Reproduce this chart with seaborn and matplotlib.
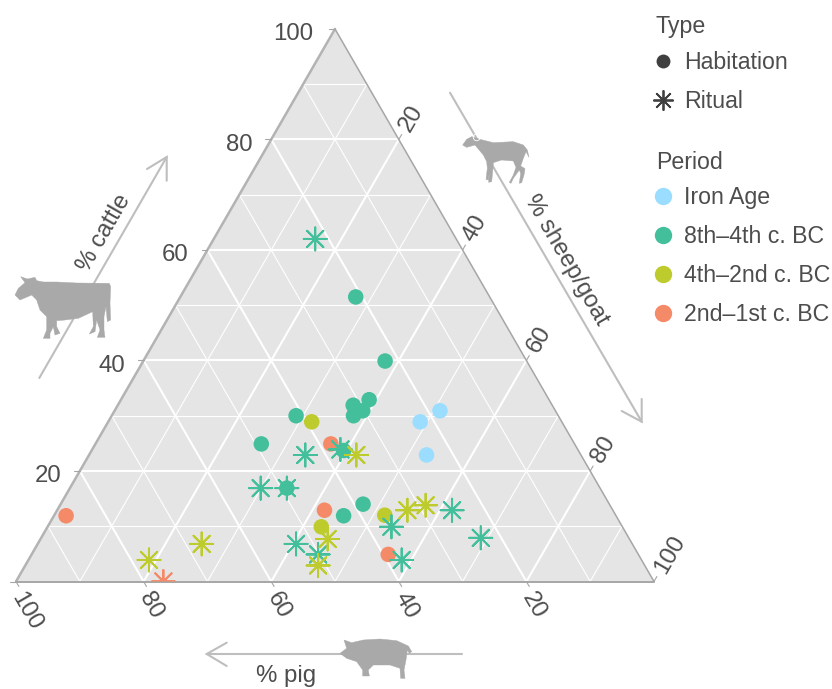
import numpy as np
import pandas as pd
import seaborn as sns
import matplotlib.pyplot as plt
from matplotlib.lines import Line2D
from matplotlib.patches import Polygon, Circle
from matplotlib.transforms import Affine2D

sns.set_theme(style="white")
plt.rcParams["font.family"] = ["Liberation Sans", "DejaVu Sans"]

# ----------------------------------------------------------------------
# Data (percentages)
# ----------------------------------------------------------------------
periods = ["Iron Age", "8th–4th c. BC", "4th–2nd c. BC", "2nd–1st c. BC"]
period_colors = ["#9BDDFF", "#43BF9B", "#BDCB2C", "#F48A68"]

hab_period = (
    ["Iron Age"] * 3 + ["2nd–1st c. BC"] * 4 + ["4th–2nd c. BC"] * 3 + ["8th–4th c. BC"] * 12
)
hab_pig = [18.1, 22.2, 24.2, 38.2, 45.2, 39.2, 86.2, 39.2, 47.2, 36.2,
           21.0, 22.2, 41.1, 49.1, 28.2, 31.2, 30.2, 32.1, 36.8, 49.1, 38.6, 42.7]
hab_cattle = [30.9, 28.9, 22.9, 24.9, 12.9, 4.9, 11.9, 28.9, 9.9, 12.0,
              51.5, 39.9, 30.0, 24.9, 32.9, 31.9, 30.9, 30.0, 23.7, 16.9, 14.0, 11.9]
hab_sheep = [51.0, 48.9, 52.9, 36.9, 41.9, 55.9, 1.9, 31.9, 42.9, 51.8,
             27.5, 37.9, 28.9, 26.0, 38.9, 36.9, 38.9, 37.9, 39.5, 34.0, 47.4, 45.4]

rit_period = ["2nd–1st c. BC"] + ["8th–4th c. BC"] * 11 + ["4th–2nd c. BC"] * 7
rit_pig = [76.9, 22.1, 43.2, 37.2, 53.2, 49.1, 52.7, 50.2, 36.2, 37.6, 25.2, 23.2,
           35.2, 47.3, 51.2, 32.2, 28.9, 77.2, 67.5]
rit_cattle = [0.0, 62.0, 22.9, 23.9, 16.9, 16.9, 6.8, 4.9, 9.9, 3.9, 12.9, 7.9,
              22.9, 7.7, 2.9, 12.9, 13.8, 3.9, 6.8]
rit_sheep = [23.1, 15.9, 33.9, 38.9, 29.9, 34.0, 40.5, 44.9, 53.9, 58.5, 61.9, 68.9,
             41.9, 45.0, 45.9, 54.9, 57.3, 18.9, 25.7]

tick_values = [20, 40, 60, 80, 100]

TEXT = "#4D4D4D"
ARROW = "#BEBEBE"
SILHOUETTE = "#A9A9A9"
FONT = 17.3
W, H = 832, 689
UNIT = 6.38  # pixels per percent along the base
X0, Y0 = 16, 581.5


def to_xy(pig, cattle, sheep):
    pig, cattle, sheep = np.asarray(pig), np.asarray(cattle), np.asarray(sheep)
    total = pig + cattle + sheep
    c = 100 * cattle / total
    s = 100 * sheep / total
    return s + c / 2, c * np.sqrt(3) / 2


fig = plt.figure(figsize=(W / 100, H / 100), dpi=100)
ax = fig.add_axes([0, 0, 1, 1])
ax.set_xlim(-X0 / UNIT, (W - X0) / UNIT)
ax.set_ylim(-(H - Y0) / UNIT, Y0 / UNIT)
ax.set_axis_off()

# pixel coordinates for the furniture around the triangle
px = Affine2D().scale(1 / W, -1 / H).translate(0, 1) + fig.transFigure

# Panel
corners = np.array(to_xy([100, 0, 0], [0, 0, 100], [0, 100, 0])).T
panel = Polygon(corners, closed=True, facecolor="#E5E5E5", edgecolor="none", zorder=0)
ax.add_patch(panel)

# Grid
for v in range(10, 100, 10):
    lw = 1.5 if v % 20 == 0 else 0.8
    for a, b in [
        (to_xy(100 - v, v, 0), to_xy(0, v, 100 - v)),
        (to_xy(100 - v, 0, v), to_xy(0, 100 - v, v)),
        (to_xy(v, 100 - v, 0), to_xy(v, 0, 100 - v)),
    ]:
        ax.plot([a[0], b[0]], [a[1], b[1]], color="white", lw=lw, zorder=1)

# Triangle edges
left = to_xy([100, 0], [0, 100], [0, 0])
right = to_xy([0, 0], [100, 0], [0, 100])
bottom = to_xy([100, 0], [0, 0], [0, 100])
ax.plot(left[0], left[1], color="#B3B3B3", lw=1.8, zorder=2, solid_capstyle="round")
ax.plot(right[0], right[1], color="#A6A6A6", lw=1.1, zorder=2, solid_capstyle="round")
ax.plot(bottom[0], bottom[1], color="#A6A6A6", lw=1.4, zorder=2, solid_capstyle="round")

# Ticks and tick labels
tl = 0.9  # tick length, in percent
ax.plot(*zip(to_xy(100, 0, 0), (to_xy(100, 0, 0)[0] - tl, 0)), color="#A6A6A6", lw=0.8)
for v in tick_values:
    # cattle, left edge (the top label sits a bit further out)
    x, y = to_xy(100 - v, v, 0)
    ax.plot([x - tl, x], [y, y], color="#A6A6A6", lw=0.8, zorder=2)
    ax.text(x - (3.4 if v == 100 else 2.9), y - 0.8, str(v), ha="right", va="center",
            fontsize=FONT, color=TEXT)
    # sheep/goat, right edge
    x, y = to_xy(0, 100 - v, v)
    ax.plot([x, x + tl / 2], [y, y + tl * 0.866], color="#A6A6A6", lw=0.8, zorder=2)
    ax.text(x + 0.97, y + 1.49, str(v), ha="left", va="center", rotation=60,
            fontsize=FONT, color=TEXT, rotation_mode="anchor")
    # pig, bottom edge
    x, y = to_xy(v, 0, 100 - v)
    ax.plot([x, x + tl / 2], [y, y - tl * 0.866], color="#A6A6A6", lw=0.8, zorder=2)
    ax.text(x + 0.1, y - 2.02, str(v), ha="left", va="center", rotation=-60,
            fontsize=FONT, color=TEXT, rotation_mode="anchor")

# Points
hab = pd.DataFrame({"period": hab_period, "pig": hab_pig, "cattle": hab_cattle, "sheep": hab_sheep})
rit = pd.DataFrame({"period": rit_period, "pig": rit_pig, "cattle": rit_cattle, "sheep": rit_sheep})
hab["x"], hab["y"] = to_xy(hab["pig"], hab["cattle"], hab["sheep"])
rit["x"], rit["y"] = to_xy(rit["pig"], rit["cattle"], rit["sheep"])
palette = dict(zip(periods, period_colors))

sns.scatterplot(data=hab, x="x", y="y", hue="period", palette=palette, hue_order=periods,
                s=125, linewidth=0, edgecolor="none", legend=False, ax=ax, zorder=3)
ax.collections[-1].set_clip_path(panel)
sns.scatterplot(data=rit, x="x", y="y", hue="period", palette=palette, hue_order=periods,
                marker=(8, 2, 0), s=275, linewidth=1.4, legend=False, ax=ax, zorder=4)
ax.collections[-1].set_clip_path(panel)
ax.set_xlim(-X0 / UNIT, (W - X0) / UNIT)
ax.set_ylim(-(H - Y0) / UNIT, Y0 / UNIT)


# Axis arrows
def open_arrow(start, end, head_a, head_b):
    ax.plot([start[0], end[0]], [start[1], end[1]], transform=px, color=ARROW, lw=1.5, zorder=1)
    ax.plot([head_a[0], end[0], head_b[0]], [head_a[1], end[1], head_b[1]], transform=px,
            color=ARROW, lw=1.5, zorder=1, solid_joinstyle="miter")


open_arrow((39.3, 378), (166.7, 157), (147, 169), (166.7, 180.7))
open_arrow((450, 92.7), (641.7, 421.7), (621.7, 411), (641.7, 399))
open_arrow((461.7, 654), (206.7, 654), (226.7, 642.7), (226.7, 666))

ax.text(104, 233, "% cattle", transform=px, rotation=60, ha="center", va="center",
        fontsize=FONT, color=TEXT, rotation_mode="anchor")
ax.text(566, 260, "% sheep/goat", transform=px, rotation=-60, ha="center", va="center",
        fontsize=FONT, color=TEXT, rotation_mode="anchor")
ax.text(286, 676, "% pig", transform=px, ha="center", va="center", fontsize=FONT, color=TEXT)

# Animal silhouettes, traced by hand
cow = [(62, 440), (82, 447), (105, 442), (110, 452), (130, 456), (170, 456), (230, 459), (328, 460),
       (332, 470), (330, 520), (332, 570), (322, 575), (318, 530), (312, 560), (312, 600), (315, 622),
       (292, 622), (300, 600), (290, 570), (285, 605), (268, 612), (280, 590), (278, 545), (235, 565),
       (195, 570), (170, 572), (170, 590), (180, 610), (165, 615), (160, 590), (150, 610), (150, 625),
       (130, 625), (140, 600), (140, 560), (120, 540), (110, 510), (95, 495), (60, 510), (45, 495),
       (55, 475), (75, 458)]
sheep_shape = [(98, 195), (110, 178), (125, 170), (150, 178), (190, 188), (250, 185), (280, 195),
               (292, 210), (297, 232), (288, 215), (280, 235), (272, 258), (285, 266), (282, 285),
               (275, 308), (268, 310), (272, 280), (268, 270), (250, 295), (243, 310), (238, 307),
               (250, 285), (258, 262), (250, 243), (215, 240), (190, 248), (188, 275), (185, 305),
               (176, 307), (178, 280), (175, 300), (168, 298), (172, 265), (170, 245), (160, 225),
               (135, 195), (110, 202)]
pig_shape = [(420, 190), (440, 175), (432, 150), (455, 158), (490, 150), (540, 147), (590, 152),
             (625, 168), (635, 185), (628, 190), (622, 180), (618, 210), (612, 240), (615, 265),
             (602, 265), (600, 235), (570, 225), (520, 225), (505, 240), (508, 258), (488, 258),
             (488, 240), (470, 215), (440, 205)]

for shape, ox, oy in [(cow, 0, 130), (sheep_shape, 430, 80), (pig_shape, 200, 590)]:
    pts = [(ox + a / 3, oy + b / 3) for a, b in shape]
    ax.add_patch(Polygon(pts, closed=True, transform=px, facecolor=SILHOUETTE,
                         edgecolor=SILHOUETTE, lw=0.3, zorder=5))
ax.add_patch(Circle((476.7, 137.3), 3.4, transform=px, facecolor="none", edgecolor="white",
                    lw=0.6, zorder=6))

# Legends
type_handles = [
    Line2D([], [], marker="o", ls="", color="#404040", markersize=10, markeredgewidth=0),
    Line2D([], [], marker=(8, 2, 0), ls="", color="#404040", markersize=14.5, markeredgewidth=1.3),
]
period_handles = [
    Line2D([], [], marker="o", ls="", color=c, markersize=12.5, markeredgewidth=0)
    for c in period_colors
]
leg_style = dict(
    loc="upper left", frameon=False, fontsize=16.7, title_fontsize=16.7, alignment="left",
    borderpad=0, borderaxespad=0, labelspacing=0.69, handlelength=0.6, handletextpad=0.62,
    labelcolor=TEXT,
)
leg1 = ax.legend(type_handles, ["Habitation", "Ritual"], title="Type",
                 bbox_to_anchor=(656, 15.5), bbox_transform=px, **leg_style)
leg1.get_title().set_color(TEXT)
leg1._legend_box.sep = 8.8  # title sits closer to the entries
ax.add_artist(leg1)
leg2 = ax.legend(period_handles, periods, title="Period",
                 bbox_to_anchor=(656, 151), bbox_transform=px, **leg_style)
leg2.get_title().set_color(TEXT)
leg2._legend_box.sep = 8.8

plt.savefig("out.png", dpi=100)
plt.close()
